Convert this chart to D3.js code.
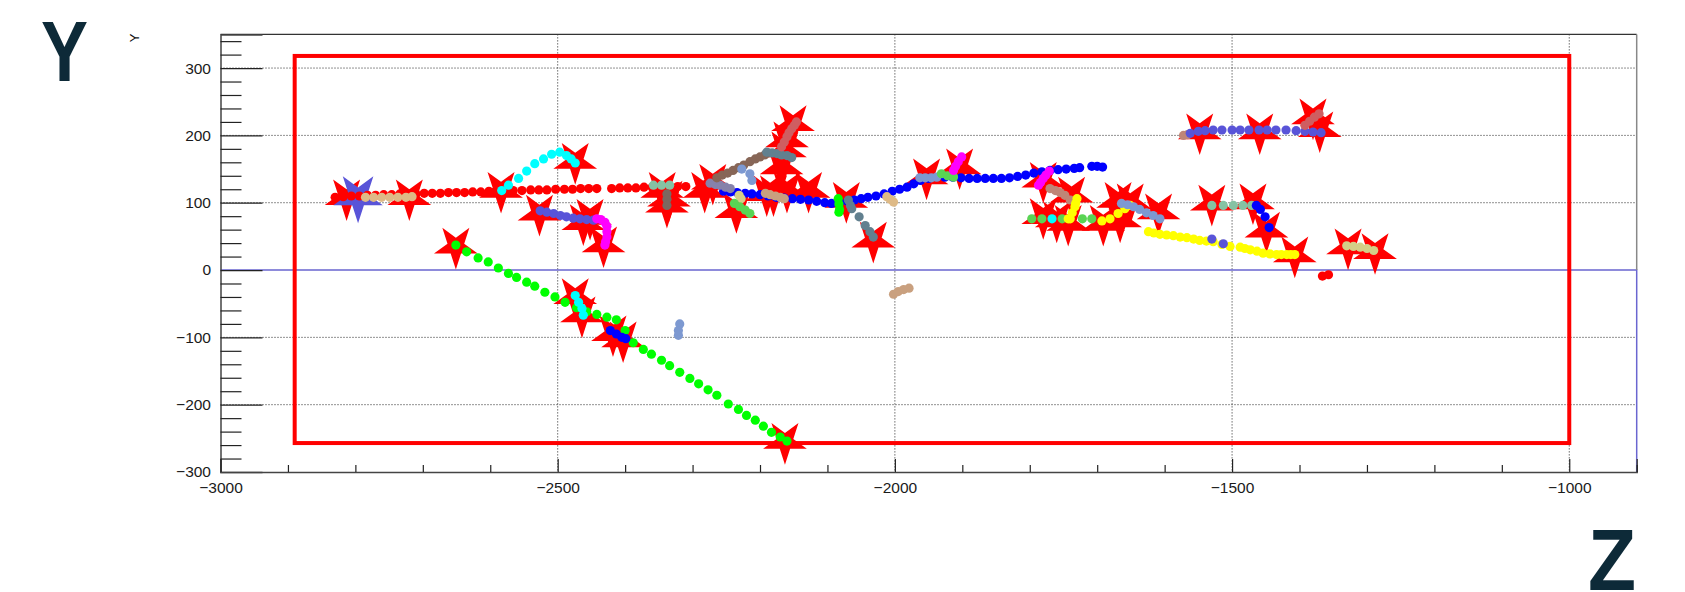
<!DOCTYPE html>
<html>
<head>
<meta charset="utf-8">
<script src="https://cdn.jsdelivr.net/npm/d3@7"></script>
<style>
  body { margin: 0; background: #fff; }
  svg { display: block; font-family: "Liberation Sans", Arial, sans-serif; }
</style>
</head>
<body>
<svg id="svg1"></svg>
<script>
// axis ticks
const xMajor = [-3000, -2500, -2000, -1500, -1000];
const yMajor = [-300, -200, -100, 0, 100, 200, 300];

// red frame (z range, y range)
const boxZ = [-2890, -1000];
const boxY = [-257, 318];

// tracks, [z, y]
const redTrack = [[-2830,108],[-2818,109],[-2806,110],[-2794,110],[-2782,111],[-2770,111],[-2758,112],[-2746,112],[-2734,113],[-2722,113],[-2710,113],[-2698,114],[-2686,114],[-2674,114],[-2662,115],[-2650,115],[-2638,115],[-2626,116],[-2614,116],[-2602,117],[-2590,117],[-2578,118],[-2566,118],[-2553,118],[-2540,119],[-2528,119],[-2516,119],[-2503,120],[-2490,120],[-2478,120],[-2466,121],[-2454,121],[-2442,121],[-2420,121],[-2408,122],[-2396,122],[-2384,122],[-2372,123],[-2360,123],[-2348,123],[-2336,124],[-2322,124],[-2310,124]];
const tanLeft = [[-2785,108],[-2773,108],[-2761,108],[-2749,108],[-2737,108],[-2725,108],[-2716,109]];
const cyanArc = [[-2583,118],[-2573,126],[-2558,136],[-2546,147],[-2534,158],[-2521,165],[-2509,172],[-2497,175],[-2487,170],[-2480,165],[-2474,159]];
const slateLeft = [[-2526,88],[-2516,86],[-2506,84],[-2496,81],[-2487,79],[-2477,77],[-2467,76],[-2457,75],[-2447,74]];
const magentaLeft = [[-2442,76],[-2436,75],[-2430,71],[-2427,65],[-2427,57],[-2427,49],[-2429,42],[-2430,37]];
const greenLong = [[-2651,37],[-2635,27],[-2618,18],[-2603,12],[-2588,3],[-2573,-5],[-2561,-11],[-2546,-18],[-2534,-24],[-2519,-33],[-2504,-40],[-2489,-48],[-2472,-56],[-2457,-62],[-2442,-66],[-2427,-70],[-2413,-74],[-2400,-90],[-2388,-108],[-2373,-118],[-2361,-125],[-2346,-134],[-2334,-142],[-2319,-152],[-2304,-161],[-2291,-169],[-2277,-178],[-2264,-186],[-2247,-199],[-2232,-207],[-2220,-216],[-2207,-223],[-2195,-232],[-2183,-241],[-2170,-248],[-2160,-254]];
const cyanLow = [[-2474,-38],[-2469,-48],[-2464,-57],[-2462,-67]];
const blueLow = [[-2422,-90],[-2413,-95],[-2405,-100],[-2399,-102]];
const steelLow = [[-2319,-80],[-2321,-90],[-2321,-97]];
const tanLow = [[-2002,-36],[-1995,-32],[-1987,-29],[-1979,-27]];
const blueLong = [[-2254,117],[-2244,116],[-2234,115],[-2222,114],[-2212,113],[-2200,112],[-2188,110],[-2176,108],[-2164,107],[-2152,106],[-2140,105],[-2128,104],[-2116,102],[-2104,100],[-2094,99],[-2082,100],[-2070,102],[-2060,104],[-2050,106],[-2040,108],[-2028,110],[-2016,113],[-2004,117],[-1993,120],[-1982,123],[-1972,128],[-1962,133],[-1950,136],[-1926,138],[-1914,138],[-1902,137],[-1890,136],[-1878,136],[-1866,136],[-1854,136],[-1842,136],[-1830,137],[-1818,139],[-1806,141],[-1794,144],[-1782,146],[-1770,148],[-1758,149],[-1746,150],[-1734,151],[-1726,152],[-1708,154],[-1700,154],[-1692,153]];
const seaGreenA = [[-2358,126],[-2346,126],[-2334,126]];
const grayBrownA = [[-2338,113],[-2338,105],[-2338,96]];
const purpleGrayA = [[-2274,129],[-2266,127],[-2259,126],[-2251,123],[-2244,121]];
const brownA = [[-2264,137],[-2256,141],[-2248,144],[-2240,148],[-2232,152],[-2224,156],[-2215,161],[-2207,165],[-2200,168],[-2193,171],[-2188,174]];
const steelA = [[-2227,150],[-2215,143],[-2212,133]];
const slateGrayA = [[-2190,175],[-2182,174],[-2175,173],[-2168,171],[-2160,170],[-2153,167]];
const indianRedA = [[-2168,183],[-2164,190],[-2160,198],[-2157,204],[-2153,210],[-2149,215],[-2146,220]];
const khakiA = [[-2231,111],[-2228,106]];
const greenA = [[-2238,99],[-2230,94],[-2222,89],[-2215,84]];
const rosyTanA = [[-2192,114],[-2185,112],[-2177,110],[-2170,108],[-2164,106]];
const brightGreenB = [[-2084,106],[-2083,98],[-2082,90],[-2083,86]];
const slateGrayB = [[-2069,104],[-2066,96],[-2064,91],[-2053,79],[-2044,66],[-2037,57],[-2032,49]];
const tanB = [[-2012,109],[-2007,105],[-2002,101]];
const steelB = [[-1963,137],[-1955,137],[-1946,137],[-1938,138]];
const greenB = [[-1931,143],[-1922,140],[-1913,138]];
const magentaB = [[-1913,148],[-1910,154],[-1906,161],[-1901,168]];
const magentaC = [[-1787,126],[-1784,130],[-1780,136],[-1776,141],[-1771,147]];
const rosyBrownA = [[-1770,121],[-1762,118],[-1755,115],[-1748,111],[-1740,104]];
const greenRow = [[-1797,76],[-1782,76],[-1752,76],[-1722,76],[-1708,76]];
const cyanDot = [[-1767,76]];
const yellowA = [[-1730,106],[-1732,99],[-1733,94],[-1737,85],[-1740,76],[-1743,76]];
const yellowB = [[-1693,73],[-1681,76],[-1669,84],[-1659,91],[-1651,96]];
const steelC = [[-1664,99],[-1655,97],[-1646,94],[-1637,90],[-1627,85],[-1617,81],[-1607,76]];
const yellowLong = [[-1624,57],[-1616,55],[-1607,53],[-1597,52],[-1587,51],[-1577,49],[-1567,48],[-1557,46],[-1548,44],[-1538,43],[-1528,42],[-1515,38],[-1503,35],[-1488,34],[-1481,32],[-1473,30],[-1463,28],[-1454,25],[-1444,24],[-1434,23],[-1427,23],[-1419,23],[-1413,23],[-1407,23]];
const slateMid = [[-1530,46],[-1513,39]];
const seaGreenB = [[-1530,96],[-1513,96],[-1498,96],[-1484,96],[-1471,96]];
const blueC = [[-1464,96],[-1458,90],[-1451,79],[-1445,63]];
const rosyBrownB = [[-1572,200],[-1566,201]];
const slateTop = [[-1562,203],[-1550,206],[-1540,207],[-1528,208],[-1515,208],[-1500,208],[-1488,208],[-1475,208],[-1460,208],[-1448,208],[-1435,208],[-1420,208],[-1405,207],[-1392,206],[-1380,205],[-1368,204]];
const indianRedB = [[-1392,215],[-1385,221],[-1378,227],[-1371,232]];
const khakiB = [[-1330,36],[-1320,35],[-1310,34],[-1300,32],[-1290,29]];
const redLow = [[-1366,-9],[-1357,-7]];

// end-point stars
const redStars = [[-2813,107],[-2720,107],[-2584,118],[-2474,161],[-2527,84],[-2462,70],[-2452,78],[-2432,37],[-2651,35],[-2345,118],[-2335,105],[-2338,96],[-2282,118],[-2270,130],[-2235,88],[-2190,113],[-2180,113],[-2160,118],[-2128,118],[-2163,178],[-2160,193],[-2151,217],[-2168,153],[-2072,103],[-2032,44],[-1953,138],[-1904,153],[-1780,133],[-1738,111],[-1780,79],[-1760,74],[-1743,69],[-1691,69],[-1669,103],[-1651,101],[-1666,74],[-1609,86],[-1530,99],[-1469,101],[-1449,59],[-1407,22],[-1328,34],[-1288,27],[-1548,205],[-1459,205],[-1380,227],[-1370,208],[-2474,-40],[-2464,-67],[-2418,-95],[-2403,-104],[-2163,-255]];
const blueStars = [[-2796,108]];

drawChart();

function drawChart() {
    let svgWidth = 1685, svgHeight = 592;
    let left = 220.5, right = 1636.7, top = 34.4, bottom = 472;

    let svg1 = d3.select('#svg1')
        .attr("width", svgWidth)
        .attr("height", svgHeight);

    let x = d3.scaleLinear().domain([-3000, -900]).range([left, right]);
    let y = d3.scaleLinear().domain([-300, 350]).range([bottom, top]);

    // grid
    let grid = svg1.append("g")
        .attr("stroke", "#222")
        .attr("stroke-width", 1)
        .attr("stroke-dasharray", "1,2");
    grid.selectAll("line.gx").data(xMajor.slice(1)).enter().append("line")
        .attr("x1", d => x(d)).attr("x2", d => x(d))
        .attr("y1", top).attr("y2", bottom);
    grid.selectAll("line.gy").data(yMajor.filter(d => d !== 0 && d !== -300)).enter().append("line")
        .attr("x1", left).attr("x2", right)
        .attr("y1", d => y(d)).attr("y2", d => y(d));

    // zero line and frame
    svg1.append("path")
        .attr("d", "M" + left + "," + y(0) + "H" + x(-900) + "V" + bottom)
        .attr("fill", "none").attr("stroke", "#6a66d0").attr("stroke-width", 1.5);
    svg1.append("line")
        .attr("x1", left).attr("x2", right).attr("y1", top).attr("y2", top)
        .attr("stroke", "#333").attr("stroke-width", 1.2);
    svg1.append("line")
        .attr("x1", right).attr("x2", right).attr("y1", top).attr("y2", y(0))
        .attr("stroke", "#888").attr("stroke-width", 1.5);

    // red box
    svg1.append("rect")
        .attr("x", x(boxZ[0])).attr("y", y(boxY[1]))
        .attr("width", x(boxZ[1]) - x(boxZ[0]))
        .attr("height", y(boxY[0]) - y(boxY[1]))
        .attr("fill", "none").attr("stroke", "#ff0000").attr("stroke-width", 4);

    // stars
    let starRed = d3.symbol(d3.symbolStar, 594);
    let starBlue = d3.symbol(d3.symbolStar, 760);
    svg1.append("g").selectAll("path").data(redStars).enter().append("path")
        .attr("d", starRed)
        .attr("transform", d => "translate(" + x(d[0]) + "," + y(d[1]) + ") rotate(180)")
        .attr("fill", "#ff0000");
    svg1.append("g").selectAll("path").data(blueStars).enter().append("path")
        .attr("d", starBlue)
        .attr("transform", d => "translate(" + x(d[0]) + "," + y(d[1]) + ") rotate(180)")
        .attr("fill", "#5954d8");

    // tracks
    let tracks = [
        [redTrack, "#ff0000"], [tanLeft, "#deba87"], [cyanArc, "#00ffff"],
        [slateLeft, "#5954d8"], [magentaLeft, "#ff00ff"], [greenLong, "#00ff00"],
        [cyanLow, "#00ffff"], [blueLow, "#0000ff"], [steelLow, "#7d99d1"], [tanLow, "#c9a07f"],
        [blueLong, "#0000ff"], [seaGreenA, "#85c2a3"], [grayBrownA, "#7b6760"],
        [purpleGrayA, "#8682aa"], [brownA, "#876657"], [steelA, "#7d99d1"],
        [slateGrayA, "#62808f"], [indianRedA, "#cf5e61"], [khakiA, "#d4cf87"],
        [greenA, "#59d454"], [rosyTanA, "#c9a07f"], [brightGreenB, "#00ff00"],
        [slateGrayB, "#62808f"], [tanB, "#deba87"], [steelB, "#7d99d1"], [greenB, "#59d454"],
        [magentaB, "#ff00ff"], [rosyBrownA, "#bf8577"], [greenRow, "#59d454"],
        [cyanDot, "#00ffff"], [yellowA, "#ffff00"], [yellowB, "#ffff00"], [magentaC, "#ff00ff"],
        [steelC, "#7d99d1"], [yellowLong, "#ffff00"], [slateMid, "#5954d8"],
        [seaGreenB, "#85c2a3"], [blueC, "#0000ff"], [rosyBrownB, "#bf8577"],
        [slateTop, "#5954d8"], [indianRedB, "#cf5e61"], [khakiB, "#d4cf87"], [redLow, "#ff0000"]
    ];
    tracks.forEach(function (t) {
        svg1.append("g").selectAll("circle").data(t[0]).enter().append("circle")
            .attr("cx", d => x(d[0]))
            .attr("cy", d => y(d[1]))
            .attr("r", 4.6)
            .attr("fill", t[1]);
    });

    // axes
    let fmt = d => (d < 0 ? "\u2212" + Math.abs(d) : "" + d);
    let yMinor = d3.range(-300, 351, 20).filter(d => d % 100 !== 0);
    let xMinor = d3.range(-3000, -899, 100).filter(d => d % 500 !== 0);

    let ax = svg1.append("g").attr("transform", "translate(" + left + ",0)");
    ax.call(d3.axisLeft(y).tickValues(yMajor).tickSize(-42).tickPadding(9.5).tickFormat(fmt));
    ax.append("g").call(d3.axisLeft(y).tickValues(yMinor).tickSize(-21).tickFormat(""))
        .select(".domain").remove();

    let bx = svg1.append("g").attr("transform", "translate(0," + bottom + ")");
    bx.call(d3.axisBottom(x).tickValues(xMajor).tickSize(-13).tickPadding(10).tickFormat(fmt));
    bx.append("g").call(d3.axisBottom(x).tickValues(xMinor).tickSize(-7).tickFormat(""))
        .select(".domain").remove();

    svg1.selectAll(".domain").attr("stroke", "#444").attr("stroke-width", 1.5);
    svg1.selectAll(".tick line").attr("stroke", "#222").attr("stroke-width", 1.2);
    svg1.selectAll(".tick text")
        .attr("font-size", 15.5)
        .attr("font-family", "Liberation Sans, Arial, sans-serif")
        .attr("fill", "#1a1a1a");

    // axis title
    svg1.append("text")
        .attr("transform", "translate(139,38) rotate(-90)")
        .attr("text-anchor", "middle")
        .attr("font-size", 13)
        .attr("fill", "#111")
        .text("Y");

    // big letters
    svg1.append("text")
        .attr("x", 41).attr("y", 81)
        .attr("textLength", 47).attr("lengthAdjust", "spacingAndGlyphs")
        .attr("font-size", 86).attr("font-weight", "bold")
        .attr("fill", "#0d2a38")
        .text("Y");
    svg1.append("text")
        .attr("x", 1588).attr("y", 590)
        .attr("textLength", 48).attr("lengthAdjust", "spacingAndGlyphs")
        .attr("font-size", 87).attr("font-weight", "bold")
        .attr("fill", "#0d2a38")
        .text("Z");
}
</script>
</body>
</html>
